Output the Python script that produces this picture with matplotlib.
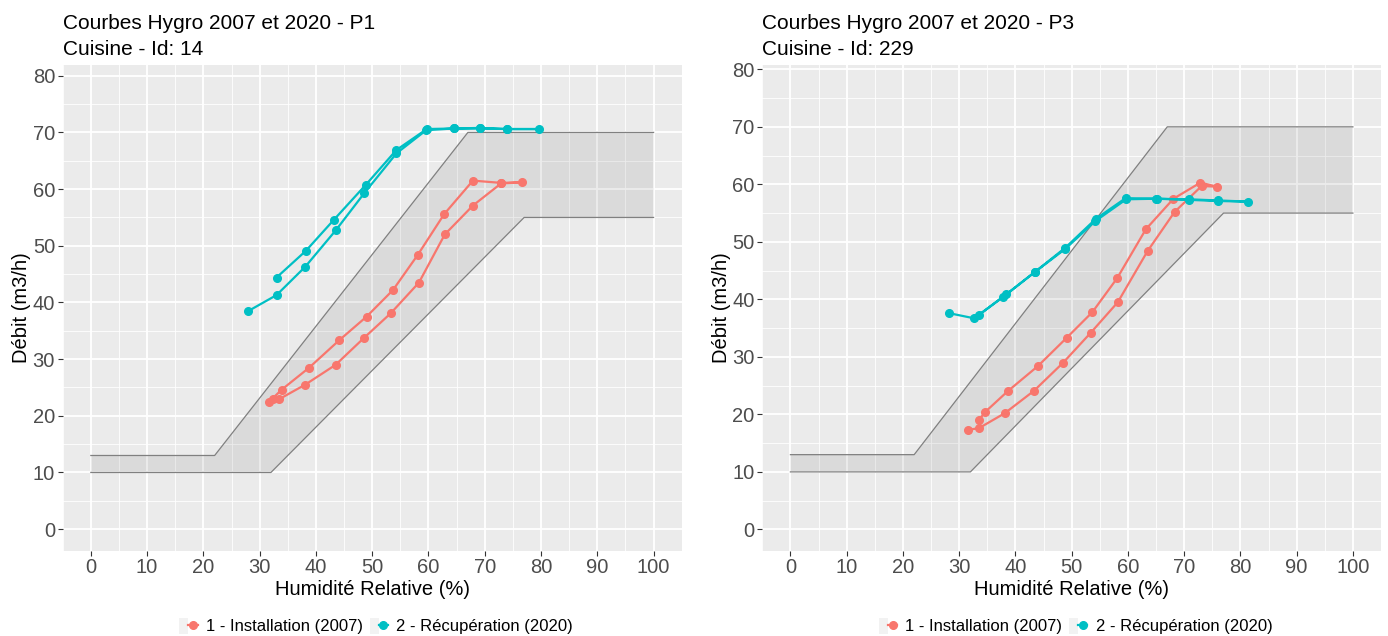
import matplotlib.pyplot as plt
from matplotlib.patches import Patch
from matplotlib.lines import Line2D
from matplotlib.legend_handler import HandlerTuple
from matplotlib.ticker import MultipleLocator

plt.rcParams['font.family'] = ['Liberation Sans', 'DejaVu Sans']

#----------------------------------------------------------------
#              DATA
#----------------------------------------------------------------
# tolerance band (same for both panels)
band_upper_hr = [0, 22, 67, 100]
band_upper_debit = [13, 13, 70, 70]
band_lower_hr = [0, 32, 77, 100]
band_lower_debit = [10, 10, 55, 55]

# P1 - Cuisine Id 14
p1_2007_hr = [31.6, 33.9, 38.8, 44.1, 49.0, 53.7, 58.1, 62.8, 67.9, 72.9, 76.7,
              72.9, 67.9, 62.9, 58.3, 53.3, 48.6, 43.5, 38.1, 33.4, 32.4]
p1_2007_debit = [22.4, 24.6, 28.5, 33.3, 37.5, 42.2, 48.4, 55.6, 61.5, 61.1, 61.2,
                 61.0, 57.1, 52.0, 43.5, 38.1, 33.8, 29.0, 25.5, 22.9, 22.9]
p1_2020_hr = [28.0, 33.0, 38.1, 43.5, 48.6, 54.3, 59.6, 64.5, 69.2, 73.9, 79.6,
              73.9, 69.2, 64.6, 59.7, 54.3, 48.9, 43.2, 38.2, 33.0]
p1_2020_debit = [38.5, 41.3, 46.3, 52.7, 59.3, 66.3, 70.4, 70.7, 70.7, 70.6, 70.6,
                 70.6, 70.8, 70.7, 70.6, 66.9, 60.8, 54.6, 49.1, 44.4]

# P3 - Cuisine Id 229
p3_2007_hr = [33.5, 34.6, 38.6, 44.0, 49.1, 53.7, 58.1, 63.2, 68.1, 72.9, 75.8,
              73.1, 68.3, 63.5, 58.2, 53.4, 48.5, 43.3, 38.1, 33.5, 31.5]
p3_2007_debit = [19.0, 20.4, 24.0, 28.4, 33.3, 37.8, 43.7, 52.2, 57.5, 60.3, 59.6,
                 59.7, 55.2, 48.4, 39.5, 34.2, 29.0, 24.1, 20.2, 17.6, 17.3]
p3_2020_hr = [28.2, 32.7, 37.8, 43.4, 48.9, 54.2, 59.7, 65.1, 70.9, 76.1, 81.3,
              76.0, 70.8, 65.0, 59.6, 54.3, 48.9, 43.5, 38.4, 33.5]
p3_2020_debit = [37.6, 36.7, 40.4, 44.7, 48.8, 53.6, 57.4, 57.5, 57.3, 57.1, 57.0,
                 57.2, 57.4, 57.5, 57.6, 54.0, 49.0, 44.8, 40.9, 37.3]

panel_titles = ['Courbes Hygro 2007 et 2020 - P1', 'Courbes Hygro 2007 et 2020 - P3']
panel_subtitles = ['Cuisine - Id: 14', 'Cuisine - Id: 229']
series_labels = ['1 - Installation (2007)', '2 - Récupération (2020)']
series_colors = ['#F8766D', '#00BFC4']

W, H = 1388, 636


def draw_panel(ax, curves, title, subtitle, ylim):
    ax.set_facecolor('#EBEBEB')
    for s in ax.spines.values():
        s.set_visible(False)
    ax.set_xlim(-5, 105)
    ax.set_ylim(*ylim)
    ax.xaxis.set_major_locator(MultipleLocator(10))
    ax.xaxis.set_minor_locator(MultipleLocator(5))
    ax.yaxis.set_major_locator(MultipleLocator(10))
    ax.yaxis.set_minor_locator(MultipleLocator(5))
    ax.grid(which='major', color='white', lw=1.3)
    ax.grid(which='minor', color='white', lw=0.6)
    ax.set_axisbelow(True)
    ax.tick_params(which='major', length=3.5, width=0.8, color='#333333',
                   labelsize=14.5, labelcolor='#4D4D4D', pad=2)
    ax.tick_params(which='minor', length=0)

    # tolerance band
    ax.fill(band_upper_hr + band_lower_hr[::-1],
            band_upper_debit + band_lower_debit[::-1],
            color='#7F7F7F', alpha=0.15, lw=0, zorder=1)
    ax.plot(band_upper_hr, band_upper_debit, color='#808080', lw=0.9, zorder=2)
    ax.plot(band_lower_hr, band_lower_debit, color='#808080', lw=0.9, zorder=2)

    for (hr, deb), col in zip(curves, series_colors):
        ax.plot(hr, deb, color=col, lw=1.6, marker='o', ms=5.5, zorder=3)

    ax.set_xlabel('Humidité Relative (%)', fontsize=14.5, labelpad=2)
    ax.set_ylabel('Débit (m3/h)', fontsize=14.5, labelpad=1)

    # title / subtitle left-aligned with the panel
    x0 = ax.get_position().x0
    fig.text(x0, 1 - 29 / H, title, fontsize=15, va='baseline', ha='left')
    fig.text(x0, 1 - 55 / H, subtitle, fontsize=15, va='baseline', ha='left')

    # legend below the panel
    handles = []
    for col in series_colors:
        handles.append((Patch(facecolor='#F2F2F2', edgecolor='none'),
                        Line2D([0], [0], color=col, lw=1.6, marker='o', ms=5.5)))
    pos = ax.get_position()
    fig.legend(handles, series_labels, handler_map={tuple: HandlerTuple(ndivide=None)},
               loc='center', bbox_to_anchor=((pos.x0 + pos.x1) / 2 + 4 / W, 1 - 626 / H),
               ncol=2, frameon=False, fontsize=12, handlelength=1.1, handleheight=1.1,
               handletextpad=0.5, columnspacing=0.4, borderpad=0)


fig = plt.figure(figsize=(W / 100, H / 100), dpi=100)
ax1 = fig.add_axes([62.7 / W, 1 - 550.7 / H, 619 / W, 485.7 / H])
ax2 = fig.add_axes([762.3 / W, 1 - 550.7 / H, 618.7 / W, 485.7 / H])

draw_panel(ax1, [(p1_2007_hr, p1_2007_debit), (p1_2020_hr, p1_2020_debit)],
           panel_titles[0], panel_subtitles[0], (-3.8, 81.9))
draw_panel(ax2, [(p3_2007_hr, p3_2007_debit), (p3_2020_hr, p3_2020_debit)],
           panel_titles[1], panel_subtitles[1], (-3.7, 80.75))

fig.savefig('out.png', dpi=100)
